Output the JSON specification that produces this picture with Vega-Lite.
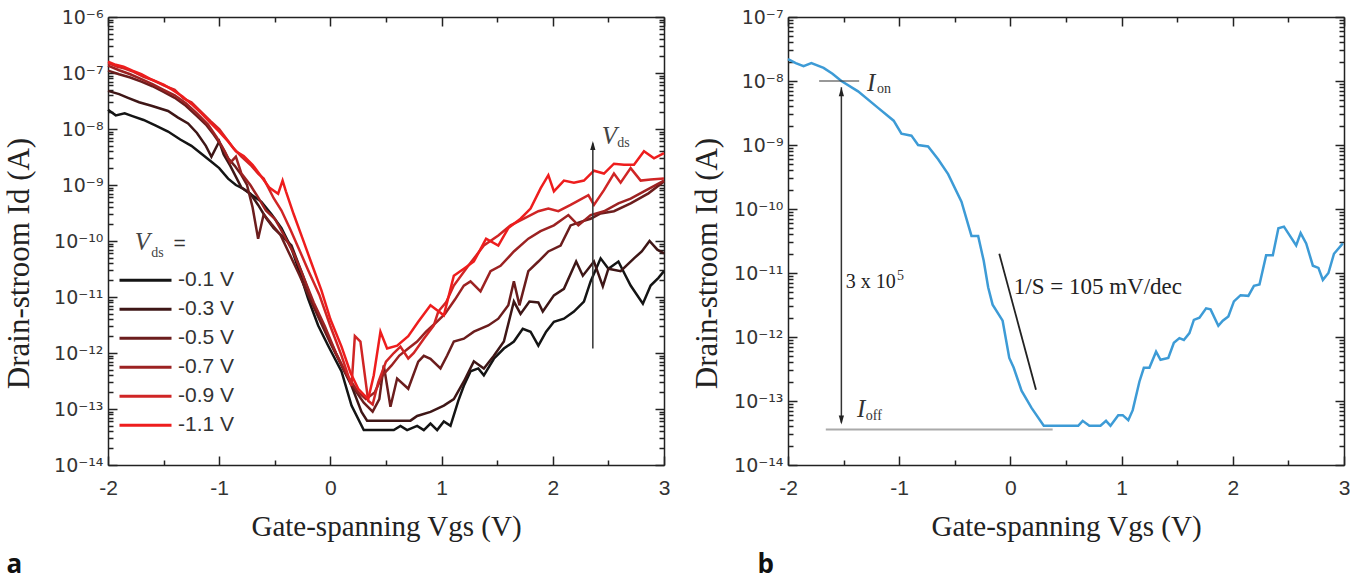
{
  "$schema": "https://vega.github.io/schema/vega-lite/v6.json",
  "padding": {"left": 3, "top": 8, "right": 0, "bottom": 12},
  "spacing": 21,
  "config": {
    "view": {"stroke": null},
    "axis": {
      "grid": false, "domainColor": "#222", "domainWidth": 1.5, "tickColor": "#222", "tickWidth": 1.5,
      "labelFont": "Liberation Sans", "labelFontSize": 21, "labelColor": "#333", "labelOverlap": false, "labelFlush": false,
      "titleFont": "Liberation Serif", "titleFontSize": 29, "titleFontWeight": "normal", "titleColor": "#222"
    }
  },
  "datasets": {
    "a": [
      {"s":"-0.1 V","x":-2.0,"y":2.2e-8},{"s":"-0.1 V","x":-1.93,"y":1.75e-8},{"s":"-0.1 V","x":-1.85,"y":1.9e-8},{"s":"-0.1 V","x":-1.78,"y":1.7e-8},{"s":"-0.1 V","x":-1.68,"y":1.45e-8},{"s":"-0.1 V","x":-1.57,"y":1.15e-8},{"s":"-0.1 V","x":-1.46,"y":9e-9},{"s":"-0.1 V","x":-1.35,"y":6.5e-9},{"s":"-0.1 V","x":-1.25,"y":5e-9},{"s":"-0.1 V","x":-1.16,"y":3.6e-9},{"s":"-0.1 V","x":-1.07,"y":2.6e-9},{"s":"-0.1 V","x":-1.0,"y":2.0e-9},{"s":"-0.1 V","x":-0.92,"y":1.3e-9},{"s":"-0.1 V","x":-0.85,"y":1.0e-9},{"s":"-0.1 V","x":-0.78,"y":8.5e-10},{"s":"-0.1 V","x":-0.7,"y":6.5e-10},{"s":"-0.1 V","x":-0.62,"y":5e-10},{"s":"-0.1 V","x":-0.53,"y":3e-10},{"s":"-0.1 V","x":-0.44,"y":1.7e-10},{"s":"-0.1 V","x":-0.35,"y":7.4e-11},{"s":"-0.1 V","x":-0.27,"y":2.5e-11},{"s":"-0.1 V","x":-0.2,"y":9.3e-12},{"s":"-0.1 V","x":-0.11,"y":3.1e-12},{"s":"-0.1 V","x":-0.02,"y":1.35e-12},{"s":"-0.1 V","x":0.1,"y":4.7e-13},{"s":"-0.1 V","x":0.19,"y":1.15e-13},{"s":"-0.1 V","x":0.3,"y":4.2e-14},{"s":"-0.1 V","x":0.57,"y":4.2e-14},{"s":"-0.1 V","x":0.63,"y":5e-14},{"s":"-0.1 V","x":0.69,"y":4.2e-14},{"s":"-0.1 V","x":0.78,"y":5e-14},{"s":"-0.1 V","x":0.84,"y":4.2e-14},{"s":"-0.1 V","x":0.9,"y":5.5e-14},{"s":"-0.1 V","x":0.96,"y":4.2e-14},{"s":"-0.1 V","x":1.02,"y":6e-14},{"s":"-0.1 V","x":1.08,"y":5e-14},{"s":"-0.1 V","x":1.15,"y":1.4e-13},{"s":"-0.1 V","x":1.2,"y":2.6e-13},{"s":"-0.1 V","x":1.26,"y":4.7e-13},{"s":"-0.1 V","x":1.33,"y":5.3e-13},{"s":"-0.1 V","x":1.38,"y":4e-13},{"s":"-0.1 V","x":1.47,"y":7.9e-13},{"s":"-0.1 V","x":1.56,"y":1.2e-12},{"s":"-0.1 V","x":1.65,"y":1.6e-12},{"s":"-0.1 V","x":1.73,"y":2.7e-12},{"s":"-0.1 V","x":1.8,"y":2.4e-12},{"s":"-0.1 V","x":1.87,"y":1.35e-12},{"s":"-0.1 V","x":1.94,"y":2.4e-12},{"s":"-0.1 V","x":2.01,"y":3.6e-12},{"s":"-0.1 V","x":2.1,"y":4.1e-12},{"s":"-0.1 V","x":2.19,"y":5.5e-12},{"s":"-0.1 V","x":2.28,"y":8.3e-12},{"s":"-0.1 V","x":2.34,"y":1.9e-11},{"s":"-0.1 V","x":2.43,"y":4.9e-11},{"s":"-0.1 V","x":2.5,"y":3.2e-11},{"s":"-0.1 V","x":2.59,"y":4.3e-11},{"s":"-0.1 V","x":2.65,"y":2.5e-11},{"s":"-0.1 V","x":2.7,"y":1.6e-11},{"s":"-0.1 V","x":2.81,"y":7.6e-12},{"s":"-0.1 V","x":2.88,"y":1.6e-11},{"s":"-0.1 V","x":2.95,"y":2.2e-11},{"s":"-0.1 V","x":3.0,"y":2.9e-11},

      {"s":"-0.3 V","x":-2.0,"y":4.8e-8},{"s":"-0.3 V","x":-1.9,"y":4.2e-8},{"s":"-0.3 V","x":-1.82,"y":3.6e-8},{"s":"-0.3 V","x":-1.72,"y":3.0e-8},{"s":"-0.3 V","x":-1.61,"y":2.6e-8},{"s":"-0.3 V","x":-1.46,"y":2.1e-8},{"s":"-0.3 V","x":-1.37,"y":1.6e-8},{"s":"-0.3 V","x":-1.28,"y":1.26e-8},{"s":"-0.3 V","x":-1.2,"y":8.5e-9},{"s":"-0.3 V","x":-1.12,"y":5e-9},{"s":"-0.3 V","x":-1.07,"y":3.2e-9},{"s":"-0.3 V","x":-1.0,"y":6e-9},{"s":"-0.3 V","x":-0.96,"y":3.5e-9},{"s":"-0.3 V","x":-0.9,"y":2.2e-9},{"s":"-0.3 V","x":-0.8,"y":9e-10},{"s":"-0.3 V","x":-0.72,"y":7e-10},{"s":"-0.3 V","x":-0.65,"y":4.4e-10},{"s":"-0.3 V","x":-0.58,"y":2.6e-10},{"s":"-0.3 V","x":-0.51,"y":1.7e-10},{"s":"-0.3 V","x":-0.43,"y":1.2e-10},{"s":"-0.3 V","x":-0.35,"y":8.3e-11},{"s":"-0.3 V","x":-0.25,"y":2.5e-11},{"s":"-0.3 V","x":-0.15,"y":7.1e-12},{"s":"-0.3 V","x":-0.05,"y":2.6e-12},{"s":"-0.3 V","x":0.03,"y":1.2e-12},{"s":"-0.3 V","x":0.12,"y":5e-13},{"s":"-0.3 V","x":0.19,"y":2.6e-13},{"s":"-0.3 V","x":0.28,"y":8.9e-14},{"s":"-0.3 V","x":0.33,"y":6.2e-14},{"s":"-0.3 V","x":0.72,"y":6.2e-14},{"s":"-0.3 V","x":0.78,"y":7.5e-14},{"s":"-0.3 V","x":0.9,"y":8.9e-14},{"s":"-0.3 V","x":1.02,"y":1.15e-13},{"s":"-0.3 V","x":1.11,"y":1.5e-13},{"s":"-0.3 V","x":1.2,"y":3.1e-13},{"s":"-0.3 V","x":1.29,"y":7.1e-13},{"s":"-0.3 V","x":1.38,"y":5.3e-13},{"s":"-0.3 V","x":1.47,"y":8.9e-13},{"s":"-0.3 V","x":1.56,"y":1.6e-12},{"s":"-0.3 V","x":1.65,"y":8.3e-12},{"s":"-0.3 V","x":1.71,"y":5e-12},{"s":"-0.3 V","x":1.79,"y":8.3e-12},{"s":"-0.3 V","x":1.87,"y":8e-12},{"s":"-0.3 V","x":1.91,"y":5.5e-12},{"s":"-0.3 V","x":2.01,"y":1.07e-11},{"s":"-0.3 V","x":2.1,"y":1.4e-11},{"s":"-0.3 V","x":2.21,"y":4.3e-11},{"s":"-0.3 V","x":2.27,"y":2.4e-11},{"s":"-0.3 V","x":2.37,"y":4.3e-11},{"s":"-0.3 V","x":2.45,"y":1.55e-11},{"s":"-0.3 V","x":2.5,"y":3.2e-11},{"s":"-0.3 V","x":2.61,"y":2.9e-11},{"s":"-0.3 V","x":2.73,"y":4.9e-11},{"s":"-0.3 V","x":2.8,"y":6.5e-11},{"s":"-0.3 V","x":2.87,"y":1.0e-10},{"s":"-0.3 V","x":2.94,"y":7e-11},{"s":"-0.3 V","x":3.0,"y":6e-11},

      {"s":"-0.5 V","x":-2.0,"y":1.1e-7},{"s":"-0.5 V","x":-1.9,"y":9.5e-8},{"s":"-0.5 V","x":-1.8,"y":8.3e-8},{"s":"-0.5 V","x":-1.7,"y":7e-8},{"s":"-0.5 V","x":-1.6,"y":5.8e-8},{"s":"-0.5 V","x":-1.5,"y":4.6e-8},{"s":"-0.5 V","x":-1.4,"y":3.6e-8},{"s":"-0.5 V","x":-1.3,"y":2.6e-8},{"s":"-0.5 V","x":-1.2,"y":1.7e-8},{"s":"-0.5 V","x":-1.12,"y":1.2e-8},{"s":"-0.5 V","x":-1.05,"y":8e-9},{"s":"-0.5 V","x":-0.98,"y":5e-9},{"s":"-0.5 V","x":-0.92,"y":3e-9},{"s":"-0.5 V","x":-0.86,"y":2.2e-9},{"s":"-0.5 V","x":-0.8,"y":1.5e-9},{"s":"-0.5 V","x":-0.75,"y":1.0e-9},{"s":"-0.5 V","x":-0.7,"y":4e-10},{"s":"-0.5 V","x":-0.65,"y":1.1e-10},{"s":"-0.5 V","x":-0.6,"y":3e-10},{"s":"-0.5 V","x":-0.53,"y":2e-10},{"s":"-0.5 V","x":-0.45,"y":1.3e-10},{"s":"-0.5 V","x":-0.37,"y":6e-11},{"s":"-0.5 V","x":-0.28,"y":2.5e-11},{"s":"-0.5 V","x":-0.2,"y":1.1e-11},{"s":"-0.5 V","x":-0.1,"y":4e-12},{"s":"-0.5 V","x":0.0,"y":1.5e-12},{"s":"-0.5 V","x":0.1,"y":6e-13},{"s":"-0.5 V","x":0.2,"y":2.5e-13},{"s":"-0.5 V","x":0.3,"y":1.3e-13},{"s":"-0.5 V","x":0.38,"y":9e-14},{"s":"-0.5 V","x":0.44,"y":1.5e-13},{"s":"-0.5 V","x":0.48,"y":6e-13},{"s":"-0.5 V","x":0.54,"y":1.1e-13},{"s":"-0.5 V","x":0.6,"y":3.5e-13},{"s":"-0.5 V","x":0.7,"y":2.3e-13},{"s":"-0.5 V","x":0.79,"y":7e-13},{"s":"-0.5 V","x":0.84,"y":8.9e-13},{"s":"-0.5 V","x":0.9,"y":7.9e-13},{"s":"-0.5 V","x":0.99,"y":5.3e-13},{"s":"-0.5 V","x":1.05,"y":9e-13},{"s":"-0.5 V","x":1.11,"y":1.6e-12},{"s":"-0.5 V","x":1.2,"y":1.8e-12},{"s":"-0.5 V","x":1.29,"y":2.4e-12},{"s":"-0.5 V","x":1.42,"y":3.1e-12},{"s":"-0.5 V","x":1.51,"y":4.1e-12},{"s":"-0.5 V","x":1.6,"y":7.1e-12},{"s":"-0.5 V","x":1.65,"y":1.9e-11},{"s":"-0.5 V","x":1.7,"y":7.1e-12},{"s":"-0.5 V","x":1.78,"y":2.9e-11},{"s":"-0.5 V","x":1.87,"y":4.3e-11},{"s":"-0.5 V","x":1.96,"y":6.5e-11},{"s":"-0.5 V","x":2.07,"y":8.3e-11},{"s":"-0.5 V","x":2.16,"y":1.9e-10},{"s":"-0.5 V","x":2.25,"y":2.2e-10},{"s":"-0.5 V","x":2.34,"y":2.5e-10},{"s":"-0.5 V","x":2.43,"y":3.1e-10},{"s":"-0.5 V","x":2.55,"y":3.4e-10},{"s":"-0.5 V","x":2.7,"y":4.7e-10},{"s":"-0.5 V","x":2.86,"y":7.1e-10},{"s":"-0.5 V","x":3.0,"y":1.15e-9},

      {"s":"-0.7 V","x":-2.0,"y":1.35e-7},{"s":"-0.7 V","x":-1.9,"y":1.12e-7},{"s":"-0.7 V","x":-1.8,"y":9.5e-8},{"s":"-0.7 V","x":-1.7,"y":7.8e-8},{"s":"-0.7 V","x":-1.6,"y":6.3e-8},{"s":"-0.7 V","x":-1.5,"y":5e-8},{"s":"-0.7 V","x":-1.4,"y":4e-8},{"s":"-0.7 V","x":-1.3,"y":2.9e-8},{"s":"-0.7 V","x":-1.2,"y":1.9e-8},{"s":"-0.7 V","x":-1.1,"y":1.2e-8},{"s":"-0.7 V","x":-1.02,"y":7e-9},{"s":"-0.7 V","x":-0.95,"y":4e-9},{"s":"-0.7 V","x":-0.9,"y":2.5e-9},{"s":"-0.7 V","x":-0.85,"y":3.2e-9},{"s":"-0.7 V","x":-0.8,"y":1.6e-9},{"s":"-0.7 V","x":-0.72,"y":1.0e-9},{"s":"-0.7 V","x":-0.65,"y":6e-10},{"s":"-0.7 V","x":-0.58,"y":3.5e-10},{"s":"-0.7 V","x":-0.5,"y":2.5e-10},{"s":"-0.7 V","x":-0.42,"y":1.3e-10},{"s":"-0.7 V","x":-0.33,"y":6e-11},{"s":"-0.7 V","x":-0.25,"y":2.5e-11},{"s":"-0.7 V","x":-0.15,"y":8e-12},{"s":"-0.7 V","x":-0.05,"y":3e-12},{"s":"-0.7 V","x":0.05,"y":1e-12},{"s":"-0.7 V","x":0.15,"y":4e-13},{"s":"-0.7 V","x":0.25,"y":2e-13},{"s":"-0.7 V","x":0.32,"y":1.5e-13},{"s":"-0.7 V","x":0.4,"y":2e-13},{"s":"-0.7 V","x":0.47,"y":4e-13},{"s":"-0.7 V","x":0.55,"y":6e-13},{"s":"-0.7 V","x":0.62,"y":9e-13},{"s":"-0.7 V","x":0.7,"y":1.2e-12},{"s":"-0.7 V","x":0.78,"y":1.6e-12},{"s":"-0.7 V","x":0.86,"y":2.4e-12},{"s":"-0.7 V","x":0.95,"y":3.5e-12},{"s":"-0.7 V","x":1.03,"y":5e-12},{"s":"-0.7 V","x":1.12,"y":9e-12},{"s":"-0.7 V","x":1.2,"y":1.6e-11},{"s":"-0.7 V","x":1.26,"y":1.9e-11},{"s":"-0.7 V","x":1.35,"y":1.26e-11},{"s":"-0.7 V","x":1.44,"y":2.9e-11},{"s":"-0.7 V","x":1.53,"y":3.6e-11},{"s":"-0.7 V","x":1.65,"y":6.5e-11},{"s":"-0.7 V","x":1.78,"y":1.1e-10},{"s":"-0.7 V","x":1.89,"y":1.5e-10},{"s":"-0.7 V","x":2.01,"y":1.9e-10},{"s":"-0.7 V","x":2.14,"y":2.9e-10},{"s":"-0.7 V","x":2.23,"y":1.9e-10},{"s":"-0.7 V","x":2.34,"y":2.9e-10},{"s":"-0.7 V","x":2.46,"y":3.4e-10},{"s":"-0.7 V","x":2.59,"y":4.7e-10},{"s":"-0.7 V","x":2.7,"y":5.7e-10},{"s":"-0.7 V","x":2.82,"y":7.7e-10},{"s":"-0.7 V","x":3.0,"y":1.2e-9},

      {"s":"-0.9 V","x":-2.0,"y":1.5e-7},{"s":"-0.9 V","x":-1.92,"y":1.3e-7},{"s":"-0.9 V","x":-1.85,"y":1.2e-7},{"s":"-0.9 V","x":-1.77,"y":1.05e-7},{"s":"-0.9 V","x":-1.68,"y":8.5e-8},{"s":"-0.9 V","x":-1.6,"y":7.5e-8},{"s":"-0.9 V","x":-1.5,"y":6e-8},{"s":"-0.9 V","x":-1.4,"y":5e-8},{"s":"-0.9 V","x":-1.32,"y":3.5e-8},{"s":"-0.9 V","x":-1.25,"y":3e-8},{"s":"-0.9 V","x":-1.16,"y":2e-8},{"s":"-0.9 V","x":-1.08,"y":1.4e-8},{"s":"-0.9 V","x":-1.0,"y":1.0e-8},{"s":"-0.9 V","x":-0.93,"y":6.5e-9},{"s":"-0.9 V","x":-0.87,"y":4.5e-9},{"s":"-0.9 V","x":-0.8,"y":3.2e-9},{"s":"-0.9 V","x":-0.71,"y":2.2e-9},{"s":"-0.9 V","x":-0.65,"y":1.6e-9},{"s":"-0.9 V","x":-0.6,"y":1.3e-9},{"s":"-0.9 V","x":-0.51,"y":5.8e-10},{"s":"-0.9 V","x":-0.44,"y":3.5e-10},{"s":"-0.9 V","x":-0.36,"y":1.6e-10},{"s":"-0.9 V","x":-0.28,"y":7e-11},{"s":"-0.9 V","x":-0.2,"y":3e-11},{"s":"-0.9 V","x":-0.1,"y":1.1e-11},{"s":"-0.9 V","x":0.0,"y":3e-12},{"s":"-0.9 V","x":0.1,"y":9e-13},{"s":"-0.9 V","x":0.19,"y":2.6e-13},{"s":"-0.9 V","x":0.22,"y":2e-12},{"s":"-0.9 V","x":0.27,"y":1.6e-12},{"s":"-0.9 V","x":0.34,"y":1.4e-13},{"s":"-0.9 V","x":0.38,"y":1.2e-13},{"s":"-0.9 V","x":0.43,"y":3e-13},{"s":"-0.9 V","x":0.5,"y":7e-13},{"s":"-0.9 V","x":0.57,"y":1.0e-12},{"s":"-0.9 V","x":0.63,"y":1.3e-12},{"s":"-0.9 V","x":0.7,"y":8e-13},{"s":"-0.9 V","x":0.75,"y":1.0e-12},{"s":"-0.9 V","x":0.84,"y":1.8e-12},{"s":"-0.9 V","x":0.93,"y":3.1e-12},{"s":"-0.9 V","x":0.97,"y":5.5e-12},{"s":"-0.9 V","x":1.04,"y":8e-12},{"s":"-0.9 V","x":1.11,"y":1.6e-11},{"s":"-0.9 V","x":1.24,"y":3.6e-11},{"s":"-0.9 V","x":1.38,"y":8.3e-11},{"s":"-0.9 V","x":1.51,"y":1.25e-10},{"s":"-0.9 V","x":1.62,"y":1.9e-10},{"s":"-0.9 V","x":1.74,"y":2.5e-10},{"s":"-0.9 V","x":1.87,"y":3.4e-10},{"s":"-0.9 V","x":1.96,"y":3.8e-10},{"s":"-0.9 V","x":2.05,"y":3.4e-10},{"s":"-0.9 V","x":2.16,"y":4.4e-10},{"s":"-0.9 V","x":2.32,"y":6.6e-10},{"s":"-0.9 V","x":2.37,"y":4.4e-10},{"s":"-0.9 V","x":2.46,"y":8.1e-10},{"s":"-0.9 V","x":2.55,"y":1.6e-9},{"s":"-0.9 V","x":2.61,"y":1.1e-9},{"s":"-0.9 V","x":2.7,"y":2e-9},{"s":"-0.9 V","x":2.79,"y":1.2e-9},{"s":"-0.9 V","x":2.88,"y":1.25e-9},{"s":"-0.9 V","x":3.0,"y":1.3e-9},

      {"s":"-1.1 V","x":-2.0,"y":1.6e-7},{"s":"-1.1 V","x":-1.93,"y":1.4e-7},{"s":"-1.1 V","x":-1.86,"y":1.3e-7},{"s":"-1.1 V","x":-1.78,"y":1.1e-7},{"s":"-1.1 V","x":-1.7,"y":9.5e-8},{"s":"-1.1 V","x":-1.6,"y":7.5e-8},{"s":"-1.1 V","x":-1.5,"y":6.2e-8},{"s":"-1.1 V","x":-1.42,"y":5e-8},{"s":"-1.1 V","x":-1.33,"y":3.8e-8},{"s":"-1.1 V","x":-1.25,"y":2.8e-8},{"s":"-1.1 V","x":-1.16,"y":1.9e-8},{"s":"-1.1 V","x":-1.08,"y":1.3e-8},{"s":"-1.1 V","x":-1.0,"y":9e-9},{"s":"-1.1 V","x":-0.92,"y":6e-9},{"s":"-1.1 V","x":-0.85,"y":4e-9},{"s":"-1.1 V","x":-0.78,"y":3.3e-9},{"s":"-1.1 V","x":-0.7,"y":2.3e-9},{"s":"-1.1 V","x":-0.63,"y":1.5e-9},{"s":"-1.1 V","x":-0.55,"y":9e-10},{"s":"-1.1 V","x":-0.47,"y":7e-10},{"s":"-1.1 V","x":-0.43,"y":1.2e-9},{"s":"-1.1 V","x":-0.4,"y":7.7e-10},{"s":"-1.1 V","x":-0.33,"y":3e-10},{"s":"-1.1 V","x":-0.25,"y":1.1e-10},{"s":"-1.1 V","x":-0.17,"y":4e-11},{"s":"-1.1 V","x":-0.08,"y":1.3e-11},{"s":"-1.1 V","x":0.0,"y":4e-12},{"s":"-1.1 V","x":0.1,"y":1.3e-12},{"s":"-1.1 V","x":0.18,"y":4.5e-13},{"s":"-1.1 V","x":0.25,"y":2.3e-13},{"s":"-1.1 V","x":0.3,"y":1.8e-13},{"s":"-1.1 V","x":0.34,"y":1.5e-13},{"s":"-1.1 V","x":0.39,"y":4e-13},{"s":"-1.1 V","x":0.45,"y":2.4e-12},{"s":"-1.1 V","x":0.51,"y":1.2e-12},{"s":"-1.1 V","x":0.6,"y":1.35e-12},{"s":"-1.1 V","x":0.7,"y":2e-12},{"s":"-1.1 V","x":0.79,"y":3.6e-12},{"s":"-1.1 V","x":0.9,"y":7.1e-12},{"s":"-1.1 V","x":1.02,"y":4.7e-12},{"s":"-1.1 V","x":1.11,"y":2.4e-11},{"s":"-1.1 V","x":1.2,"y":3.2e-11},{"s":"-1.1 V","x":1.29,"y":4.3e-11},{"s":"-1.1 V","x":1.4,"y":1.1e-10},{"s":"-1.1 V","x":1.51,"y":8.3e-11},{"s":"-1.1 V","x":1.6,"y":1.7e-10},{"s":"-1.1 V","x":1.71,"y":2.5e-10},{"s":"-1.1 V","x":1.8,"y":3.8e-10},{"s":"-1.1 V","x":1.89,"y":8.7e-10},{"s":"-1.1 V","x":1.96,"y":1.5e-9},{"s":"-1.1 V","x":2.01,"y":7.7e-10},{"s":"-1.1 V","x":2.1,"y":1.2e-9},{"s":"-1.1 V","x":2.19,"y":1.1e-9},{"s":"-1.1 V","x":2.28,"y":1.2e-9},{"s":"-1.1 V","x":2.37,"y":1.8e-9},{"s":"-1.1 V","x":2.46,"y":1.6e-9},{"s":"-1.1 V","x":2.55,"y":2.4e-9},{"s":"-1.1 V","x":2.64,"y":2.3e-9},{"s":"-1.1 V","x":2.73,"y":2.3e-9},{"s":"-1.1 V","x":2.82,"y":4e-9},{"s":"-1.1 V","x":2.91,"y":3e-9},{"s":"-1.1 V","x":3.0,"y":3.7e-9}
    ],
    "b": [
      {"x":-2.0,"y":2.2e-8},{"x":-1.93,"y":1.9e-8},{"x":-1.86,"y":1.7e-8},{"x":-1.79,"y":1.9e-8},{"x":-1.68,"y":1.6e-8},{"x":-1.6,"y":1.3e-8},{"x":-1.52,"y":1.0e-8},{"x":-1.37,"y":6.9e-9},{"x":-1.19,"y":3.8e-9},{"x":-1.05,"y":2.4e-9},{"x":-0.98,"y":1.5e-9},{"x":-0.89,"y":1.4e-9},{"x":-0.83,"y":1.0e-9},{"x":-0.74,"y":9.5e-10},{"x":-0.65,"y":6e-10},{"x":-0.56,"y":3.5e-10},{"x":-0.44,"y":1.3e-10},{"x":-0.35,"y":3.8e-11},{"x":-0.29,"y":3.8e-11},{"x":-0.24,"y":1.55e-11},{"x":-0.2,"y":6e-12},{"x":-0.16,"y":3.2e-12},{"x":-0.07,"y":1.8e-12},{"x":-0.01,"y":4.7e-13},{"x":0.03,"y":3.3e-13},{"x":0.1,"y":1.45e-13},{"x":0.19,"y":7.8e-14},{"x":0.3,"y":4.1e-14},{"x":0.61,"y":4.1e-14},{"x":0.65,"y":4.9e-14},{"x":0.71,"y":4.1e-14},{"x":0.81,"y":4.1e-14},{"x":0.86,"y":4.9e-14},{"x":0.9,"y":4.1e-14},{"x":0.97,"y":6e-14},{"x":1.01,"y":6e-14},{"x":1.06,"y":5e-14},{"x":1.1,"y":7.2e-14},{"x":1.16,"y":2e-13},{"x":1.2,"y":3.3e-13},{"x":1.25,"y":3.3e-13},{"x":1.31,"y":5.9e-13},{"x":1.35,"y":4.4e-13},{"x":1.42,"y":4.7e-13},{"x":1.47,"y":8.1e-13},{"x":1.52,"y":9.6e-13},{"x":1.56,"y":9e-13},{"x":1.61,"y":1.15e-12},{"x":1.65,"y":1.85e-12},{"x":1.7,"y":2e-12},{"x":1.76,"y":2.8e-12},{"x":1.8,"y":2.7e-12},{"x":1.87,"y":1.5e-12},{"x":1.91,"y":1.8e-12},{"x":1.96,"y":2.1e-12},{"x":2.01,"y":3.6e-12},{"x":2.07,"y":4.5e-12},{"x":2.14,"y":4.4e-12},{"x":2.19,"y":6.3e-12},{"x":2.24,"y":6.6e-12},{"x":2.3,"y":1.9e-11},{"x":2.36,"y":1.9e-11},{"x":2.41,"y":5e-11},{"x":2.46,"y":5.3e-11},{"x":2.57,"y":2.7e-11},{"x":2.61,"y":4.2e-11},{"x":2.66,"y":2.9e-11},{"x":2.72,"y":1.3e-11},{"x":2.77,"y":1.2e-11},{"x":2.81,"y":7.8e-12},{"x":2.86,"y":1.0e-11},{"x":2.91,"y":2.0e-11},{"x":2.99,"y":2.9e-11}
    ]
  },
  "hconcat": [
    {
      "width": 556, "height": 448,
      "title": {"text": "a", "orient": "bottom", "anchor": "start", "frame": "bounds", "font": "Open Sans", "fontSize": 26, "fontWeight": "bold", "color": "#111", "offset": 11, "dx": 3},
      "resolve": {"axis": {"x": "independent", "y": "independent"}},
      "layer": [
        {
          "data": {"name": "a"},
          "mark": {"type": "line", "strokeWidth": 2.5},
          "encoding": {
            "x": {"field": "x", "type": "quantitative", "scale": {"domain": [-2, 3], "nice": false, "zero": false},
              "axis": {"orient": "bottom", "title": "Gate-spanning Vgs  (V)", "values": [-2,-1.5,-1,-0.5,0,0.5,1,1.5,2,2.5,3],
                "labelExpr": "datum.value % 1 == 0 ? '' + datum.value : ''",
                "tickSize": {"condition": {"test": "datum.value % 1 == 0", "value": -9}, "value": -5},
                "labelPadding": 21, "titlePadding": 10}},
            "y": {"field": "y", "type": "quantitative", "scale": {"type": "log", "domain": [1e-14, 1e-6], "nice": false},
              "axis": {"orient": "left", "title": "Drain-stroom Id (A)", "titleFontSize": 31, "titleY": 246, "labelFont": "DejaVu Sans", "labelFontSize": 19,
                "values": [1e-14,2e-14,3e-14,4e-14,5e-14,6e-14,7e-14,8e-14,9e-14,1e-13,2e-13,3e-13,4e-13,5e-13,6e-13,7e-13,8e-13,9e-13,1e-12,2e-12,3e-12,4e-12,5e-12,6e-12,7e-12,8e-12,9e-12,1e-11,2e-11,3e-11,4e-11,5e-11,6e-11,7e-11,8e-11,9e-11,1e-10,2e-10,3e-10,4e-10,5e-10,6e-10,7e-10,8e-10,9e-10,1e-9,2e-9,3e-9,4e-9,5e-9,6e-9,7e-9,8e-9,9e-9,1e-8,2e-8,3e-8,4e-8,5e-8,6e-8,7e-8,8e-8,9e-8,1e-7,2e-7,3e-7,4e-7,5e-7,6e-7,7e-7,8e-7,9e-7,1e-6],
                "labelExpr": "abs(log(datum.value)/LN10 - round(log(datum.value)/LN10)) > 0.01 ? '' : '10' + replace(replace(replace(replace(replace(replace(replace(replace(replace(replace(replace('' + round(log(datum.value)/LN10), '-', '⁻'), regexp('0','g'), '⁰'), regexp('1','g'), '¹'), regexp('2','g'), '²'), regexp('3','g'), '³'), regexp('4','g'), '⁴'), '5', '⁵'), '6', '⁶'), '7', '⁷'), '8', '⁸'), '9', '⁹')",
                "tickSize": {"condition": {"test": "abs(log(datum.value)/LN10 - round(log(datum.value)/LN10)) < 0.01", "value": -9}, "value": -5},
                "labelPadding": 14, "titlePadding": 18}},
            "color": {"field": "s", "type": "nominal",
              "scale": {"domain": ["-0.1 V","-0.3 V","-0.5 V","-0.7 V","-0.9 V","-1.1 V"], "range": ["#141414","#3e1616","#6b1d1d","#9c2222","#d02525","#ee1d1d"]},
              "legend": {"orient": "none", "legendX": 10, "legendY": 249, "title": null, "symbolType": "stroke", "symbolSize": 2704, "symbolStrokeWidth": 3, "clipHeight": 28.4, "rowPadding": 0, "padding": 0, "labelFont": "Liberation Sans", "labelFontSize": 21, "labelColor": "#333", "labelOffset": 5}}
          }
        },
        {
          "data": {"values": [{"x": 2.36, "y1": 1.2e-12, "y2": 5.5e-9}]},
          "mark": {"type": "rule", "color": "#333", "strokeWidth": 1.5},
          "encoding": {
            "x": {"field": "x", "type": "quantitative",
              "axis": {"orient": "top", "title": null, "labels": false, "values": [-2,-1.5,-1,-0.5,0,0.5,1,1.5,2,2.5,3],
                "tickSize": {"condition": {"test": "datum.value % 1 == 0", "value": -9}, "value": -5}}},
            "y": {"field": "y1", "type": "quantitative",
              "axis": {"orient": "right", "title": null, "labels": false,
                "values": [1e-14,2e-14,3e-14,4e-14,5e-14,6e-14,7e-14,8e-14,9e-14,1e-13,2e-13,3e-13,4e-13,5e-13,6e-13,7e-13,8e-13,9e-13,1e-12,2e-12,3e-12,4e-12,5e-12,6e-12,7e-12,8e-12,9e-12,1e-11,2e-11,3e-11,4e-11,5e-11,6e-11,7e-11,8e-11,9e-11,1e-10,2e-10,3e-10,4e-10,5e-10,6e-10,7e-10,8e-10,9e-10,1e-9,2e-9,3e-9,4e-9,5e-9,6e-9,7e-9,8e-9,9e-9,1e-8,2e-8,3e-8,4e-8,5e-8,6e-8,7e-8,8e-8,9e-8,1e-7,2e-7,3e-7,4e-7,5e-7,6e-7,7e-7,8e-7,9e-7,1e-6],
                "tickSize": {"condition": {"test": "abs(log(datum.value)/LN10 - round(log(datum.value)/LN10)) < 0.01", "value": -9}, "value": -5}}},
            "y2": {"field": "y2"}
          }
        },
        {
          "data": {"values": [{"x": 2.36, "y": 4.9e-9}]},
          "mark": {"type": "point", "shape": "M0,-1L0.5,0.7L-0.5,0.7Z", "filled": true, "color": "#222", "size": 110, "opacity": 1},
          "encoding": {
            "x": {"field": "x", "type": "quantitative", "axis": null},
            "y": {"field": "y", "type": "quantitative", "axis": null}
          }
        },
        {
          "data": {"values": [{"x": -1.76, "y": 6.8e-11, "t": "V"}, {"x": 2.44, "y": 5.4e-9, "t": "V"}]},
          "mark": {"type": "text", "font": "Liberation Serif", "fontStyle": "italic", "fontSize": 25, "align": "left", "baseline": "alphabetic", "color": "#444"},
          "encoding": {
            "x": {"field": "x", "type": "quantitative", "axis": null},
            "y": {"field": "y", "type": "quantitative", "axis": null},
            "text": {"field": "t"}
          }
        },
        {
          "data": {"values": [{"x": -1.61, "y": 5.2e-11, "t": "ds"}, {"x": 2.58, "y": 4.7e-9, "t": "ds"}]},
          "mark": {"type": "text", "font": "Liberation Serif", "fontSize": 14, "align": "left", "baseline": "alphabetic", "color": "#444"},
          "encoding": {
            "x": {"field": "x", "type": "quantitative", "axis": null},
            "y": {"field": "y", "type": "quantitative", "axis": null},
            "text": {"field": "t"}
          }
        },
        {
          "data": {"values": [{"x": -1.41, "y": 6.8e-11, "t": "="}]},
          "mark": {"type": "text", "font": "Liberation Sans", "fontSize": 21, "align": "left", "baseline": "alphabetic", "color": "#333"},
          "encoding": {
            "x": {"field": "x", "type": "quantitative", "axis": null},
            "y": {"field": "y", "type": "quantitative", "axis": null},
            "text": {"field": "t"}
          }
        }
      ]
    },
    {
      "width": 556, "height": 448,
      "title": {"text": "b", "orient": "bottom", "anchor": "start", "frame": "bounds", "font": "Open Sans", "fontSize": 26, "fontWeight": "bold", "color": "#111", "offset": 11, "dx": 66},
      "resolve": {"axis": {"x": "independent", "y": "independent"}},
      "layer": [
        {
          "data": {"name": "b"},
          "mark": {"type": "line", "strokeWidth": 2.5, "color": "#3d9bd6"},
          "encoding": {
            "x": {"field": "x", "type": "quantitative", "scale": {"domain": [-2, 3], "nice": false, "zero": false},
              "axis": {"orient": "bottom", "title": "Gate-spanning Vgs  (V)", "values": [-2,-1.5,-1,-0.5,0,0.5,1,1.5,2,2.5,3],
                "labelExpr": "datum.value % 1 == 0 ? '' + datum.value : ''",
                "tickSize": {"condition": {"test": "datum.value % 1 == 0", "value": -9}, "value": -5},
                "labelPadding": 21, "titlePadding": 10}},
            "y": {"field": "y", "type": "quantitative", "scale": {"type": "log", "domain": [1e-14, 1e-7], "nice": false},
              "axis": {"orient": "left", "title": "Drain-stroom Id (A)", "titleFontSize": 31, "titleY": 246, "labelFont": "DejaVu Sans", "labelFontSize": 19,
                "values": [1e-14,2e-14,3e-14,4e-14,5e-14,6e-14,7e-14,8e-14,9e-14,1e-13,2e-13,3e-13,4e-13,5e-13,6e-13,7e-13,8e-13,9e-13,1e-12,2e-12,3e-12,4e-12,5e-12,6e-12,7e-12,8e-12,9e-12,1e-11,2e-11,3e-11,4e-11,5e-11,6e-11,7e-11,8e-11,9e-11,1e-10,2e-10,3e-10,4e-10,5e-10,6e-10,7e-10,8e-10,9e-10,1e-9,2e-9,3e-9,4e-9,5e-9,6e-9,7e-9,8e-9,9e-9,1e-8,2e-8,3e-8,4e-8,5e-8,6e-8,7e-8,8e-8,9e-8,1e-7],
                "labelExpr": "abs(log(datum.value)/LN10 - round(log(datum.value)/LN10)) > 0.01 ? '' : '10' + replace(replace(replace(replace(replace(replace(replace(replace(replace(replace(replace('' + round(log(datum.value)/LN10), '-', '⁻'), regexp('0','g'), '⁰'), regexp('1','g'), '¹'), regexp('2','g'), '²'), regexp('3','g'), '³'), regexp('4','g'), '⁴'), '5', '⁵'), '6', '⁶'), '7', '⁷'), '8', '⁸'), '9', '⁹')",
                "tickSize": {"condition": {"test": "abs(log(datum.value)/LN10 - round(log(datum.value)/LN10)) < 0.01", "value": -9}, "value": -5},
                "labelPadding": 14, "titlePadding": 10}}
          }
        },
        {
          "data": {"values": [{"x": -1.52, "y1": 4.6e-14, "y2": 8e-9}]},
          "mark": {"type": "rule", "color": "#333", "strokeWidth": 1.5},
          "encoding": {
            "x": {"field": "x", "type": "quantitative",
              "axis": {"orient": "top", "title": null, "labels": false, "values": [-2,-1.5,-1,-0.5,0,0.5,1,1.5,2,2.5,3],
                "tickSize": {"condition": {"test": "datum.value % 1 == 0", "value": -9}, "value": -5}}},
            "y": {"field": "y1", "type": "quantitative",
              "axis": {"orient": "right", "title": null, "labels": false,
                "values": [1e-14,2e-14,3e-14,4e-14,5e-14,6e-14,7e-14,8e-14,9e-14,1e-13,2e-13,3e-13,4e-13,5e-13,6e-13,7e-13,8e-13,9e-13,1e-12,2e-12,3e-12,4e-12,5e-12,6e-12,7e-12,8e-12,9e-12,1e-11,2e-11,3e-11,4e-11,5e-11,6e-11,7e-11,8e-11,9e-11,1e-10,2e-10,3e-10,4e-10,5e-10,6e-10,7e-10,8e-10,9e-10,1e-9,2e-9,3e-9,4e-9,5e-9,6e-9,7e-9,8e-9,9e-9,1e-8,2e-8,3e-8,4e-8,5e-8,6e-8,7e-8,8e-8,9e-8,1e-7],
                "tickSize": {"condition": {"test": "abs(log(datum.value)/LN10 - round(log(datum.value)/LN10)) < 0.01", "value": -9}, "value": -5}}},
            "y2": {"field": "y2"}
          }
        },
        {
          "data": {"values": [{"x1": -1.72, "x2": -1.36, "y": 1e-8}]},
          "mark": {"type": "rule", "color": "#333", "strokeWidth": 1.2},
          "encoding": {
            "x": {"field": "x1", "type": "quantitative", "axis": null},
            "x2": {"field": "x2"},
            "y": {"field": "y", "type": "quantitative", "axis": null}
          }
        },
        {
          "data": {"values": [{"x1": -1.66, "x2": 0.38, "y": 3.6e-14}]},
          "mark": {"type": "rule", "color": "#aaaaaa", "strokeWidth": 2},
          "encoding": {
            "x": {"field": "x1", "type": "quantitative", "axis": null},
            "x2": {"field": "x2"},
            "y": {"field": "y", "type": "quantitative", "axis": null}
          }
        },
        {
          "data": {"values": [{"x1": -0.1, "x2": 0.23, "y1": 2.0e-11, "y2": 1.5e-13}]},
          "mark": {"type": "rule", "color": "#222", "strokeWidth": 1.8},
          "encoding": {
            "x": {"field": "x1", "type": "quantitative", "axis": null},
            "x2": {"field": "x2"},
            "y": {"field": "y1", "type": "quantitative", "axis": null},
            "y2": {"field": "y2"}
          }
        },
        {
          "data": {"values": [{"x": -1.52, "y": 6.6e-9}]},
          "mark": {"type": "point", "shape": "M0,-1L0.5,0.7L-0.5,0.7Z", "filled": true, "color": "#222", "size": 110, "opacity": 1},
          "encoding": {
            "x": {"field": "x", "type": "quantitative", "axis": null},
            "y": {"field": "y", "type": "quantitative", "axis": null}
          }
        },
        {
          "data": {"values": [{"x": -1.52, "y": 5.2e-14}]},
          "mark": {"type": "point", "shape": "M0,1L0.5,-0.7L-0.5,-0.7Z", "filled": true, "color": "#222", "size": 110, "opacity": 1},
          "encoding": {
            "x": {"field": "x", "type": "quantitative", "axis": null},
            "y": {"field": "y", "type": "quantitative", "axis": null}
          }
        },
        {
          "data": {"values": [{"x": -1.29, "y": 6.9e-9, "t": "I"}, {"x": -1.38, "y": 5.6e-14, "t": "I"}]},
          "mark": {"type": "text", "font": "Liberation Serif", "fontStyle": "italic", "fontSize": 25, "align": "left", "baseline": "alphabetic", "color": "#333"},
          "encoding": {
            "x": {"field": "x", "type": "quantitative", "axis": null},
            "y": {"field": "y", "type": "quantitative", "axis": null},
            "text": {"field": "t"}
          }
        },
        {
          "data": {"values": [{"x": -1.2, "y": 6.5e-9, "t": "on"}, {"x": -1.3, "y": 5.0e-14, "t": "off"}, {"x": -1.02, "y": 7.8e-12, "t": "5"}]},
          "mark": {"type": "text", "font": "Liberation Serif", "fontSize": 14, "align": "left", "baseline": "alphabetic", "color": "#333"},
          "encoding": {
            "x": {"field": "x", "type": "quantitative", "axis": null},
            "y": {"field": "y", "type": "quantitative", "axis": null},
            "text": {"field": "t"}
          }
        },
        {
          "data": {"values": [{"x": -1.48, "y": 5.9e-12, "t": "3 x 10"}]},
          "mark": {"type": "text", "font": "Liberation Serif", "fontSize": 20, "align": "left", "baseline": "alphabetic", "color": "#222"},
          "encoding": {
            "x": {"field": "x", "type": "quantitative", "axis": null},
            "y": {"field": "y", "type": "quantitative", "axis": null},
            "text": {"field": "t"}
          }
        },
        {
          "data": {"values": [{"x": 0.03, "y": 4.7e-12, "t": "1/S = 105 mV/dec"}]},
          "mark": {"type": "text", "font": "Liberation Serif", "fontSize": 23, "align": "left", "baseline": "alphabetic", "color": "#222"},
          "encoding": {
            "x": {"field": "x", "type": "quantitative", "axis": null},
            "y": {"field": "y", "type": "quantitative", "axis": null},
            "text": {"field": "t"}
          }
        }
      ]
    }
  ]
}
